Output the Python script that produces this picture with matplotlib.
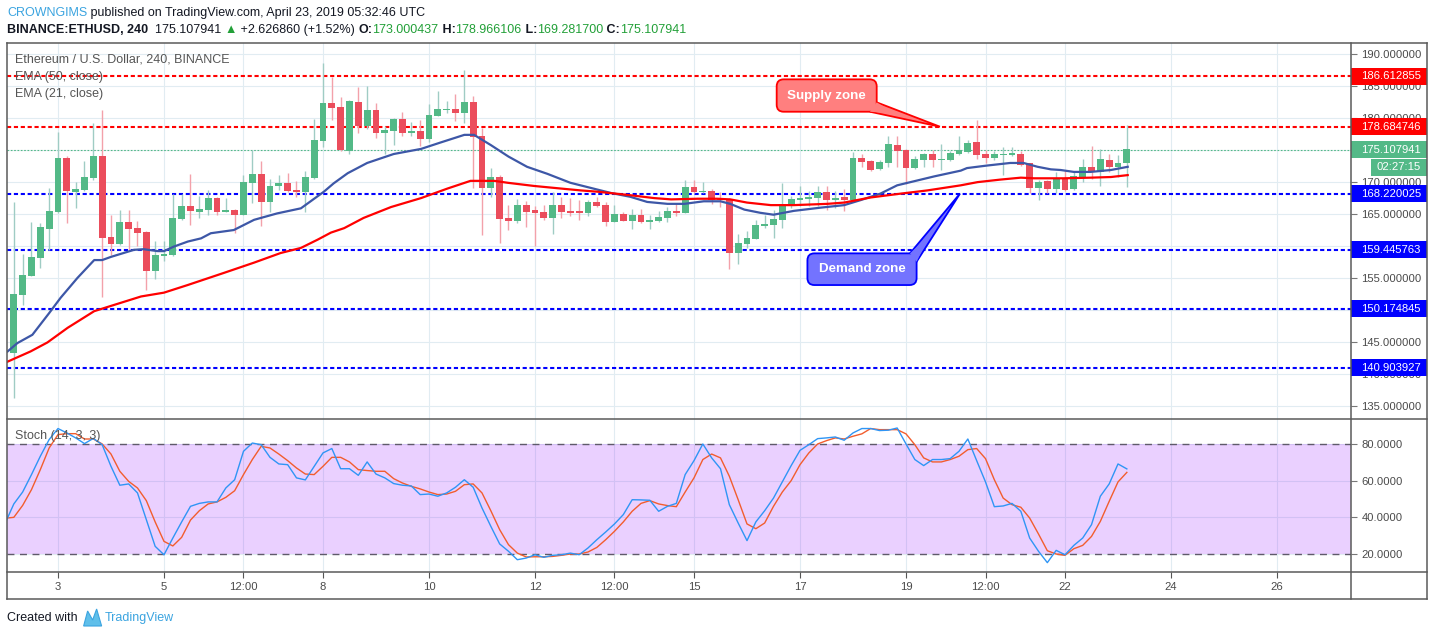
import numpy as np
import matplotlib
matplotlib.use("Agg")
import matplotlib.pyplot as plt
import matplotlib.transforms as mtransforms
from matplotlib.patches import Rectangle, FancyBboxPatch, Polygon
from matplotlib.lines import Line2D

plt.rcParams["font.family"] = ["Liberation Sans", "DejaVu Sans"]

# ---------------- data (ETHUSD 4h candles, Apr 2 04:00 -> Apr 23 04:00) ----------------
first_bar_day = 2 + 4 / 24.0

opens = [143.25, 152.37, 155.34, 158.16, 162.69, 165.35, 173.79, 168.48, 168.79, 170.66,
         174.10, 161.44, 160.35, 163.79, 162.85, 162.22, 156.13, 158.47, 158.63, 164.25,
         166.29, 165.35, 165.66, 167.54, 165.35, 165.66, 164.88, 169.88, 171.29, 166.91,
         169.41, 169.88, 168.79, 168.48, 170.66, 176.45, 182.39, 181.76, 174.88, 182.55,
         178.79, 181.29, 177.70, 178.01, 179.89, 177.70, 178.01, 176.76, 180.36, 181.29,
         181.45, 180.83, 182.55, 177.23, 169.10, 170.82, 164.41, 163.94, 166.44, 165.66,
         165.35, 164.41, 166.44, 165.50, 165.51, 165.20, 166.87, 166.40, 163.79, 164.99,
         163.95, 164.83, 163.79, 163.95, 164.42, 165.51, 165.20, 169.21, 168.43, 168.58,
         167.44, 167.33, 158.94, 160.35, 161.13, 163.11, 163.27, 164.05, 166.40, 167.18,
         167.33, 167.49, 168.43, 167.18, 167.65, 167.18, 173.74, 173.27, 172.02, 172.96,
         175.78, 174.99, 172.18, 173.43, 174.37, 173.43, 173.43, 174.37, 174.68, 176.24,
         174.37, 173.74, 174.21, 174.21, 174.37, 172.96, 169.05, 170.15, 168.90, 170.62,
         168.90, 170.77, 172.34, 171.56, 173.43, 172.34, 173.00]
highs = [166.91, 158.78, 163.79, 163.58, 169.15, 177.86, 174.10, 170.04, 173.32, 179.26,
         181.29, 164.88, 165.66, 165.66, 163.94, 162.30, 160.82, 160.82, 168.16, 168.16,
         171.29, 167.85, 168.79, 167.60, 167.54, 165.82, 171.13, 175.04, 173.32, 170.51,
         171.13, 171.45, 170.20, 171.76, 179.89, 188.64, 186.45, 183.33, 182.86, 184.89,
         185.05, 182.39, 178.79, 180.04, 180.98, 179.42, 179.73, 182.23, 184.26, 182.70,
         183.80, 187.55, 183.48, 178.48, 172.23, 171.13, 166.44, 167.38, 167.07, 166.29,
         166.44, 168.48, 167.69, 167.54, 167.18, 167.18, 167.65, 166.87, 166.40, 165.30,
         165.77, 165.77, 164.83, 165.46, 166.08, 166.55, 170.30, 170.30, 170.00, 168.90,
         168.43, 167.49, 161.86, 162.33, 164.05, 164.83, 165.61, 169.84, 167.80, 169.37,
         168.58, 169.37, 169.37, 168.58, 168.90, 174.68, 174.37, 173.43, 173.43, 177.18,
         177.18, 175.15, 174.06, 174.50, 175.00, 175.93, 174.84, 177.18, 176.56, 179.68,
         174.99, 174.84, 175.46, 175.46, 174.84, 173.00, 170.30, 170.30, 171.56, 171.87,
         171.56, 173.59, 175.62, 175.15, 174.37, 174.21, 178.97]
lows = [136.22, 150.81, 155.24, 156.59, 159.41, 165.10, 163.63, 165.97, 168.68, 170.35,
        152.06, 158.63, 160.19, 159.41, 160.03, 153.15, 154.87, 157.69, 158.50, 164.10,
        163.32, 164.41, 164.88, 164.88, 165.30, 162.07, 164.78, 166.76, 163.16, 165.35,
        168.79, 168.50, 167.69, 165.35, 170.56, 175.51, 179.73, 174.88, 174.42, 177.70,
        178.32, 176.92, 174.42, 175.82, 177.23, 177.23, 175.67, 176.29, 180.30, 180.83,
        179.57, 179.26, 169.10, 161.75, 167.69, 160.50, 162.53, 163.63, 163.00, 160.03,
        164.10, 161.91, 164.41, 164.72, 164.05, 164.68, 166.08, 163.11, 163.70, 163.90,
        162.64, 163.58, 162.64, 163.79, 163.79, 164.68, 165.10, 168.32, 168.30, 166.55,
        166.14, 156.44, 157.22, 159.73, 161.03, 162.80, 161.19, 162.80, 165.93, 166.24,
        166.24, 166.24, 165.61, 165.93, 165.46, 167.10, 172.34, 171.76, 171.90, 172.34,
        172.34, 169.68, 172.00, 172.34, 172.34, 171.87, 173.30, 174.21, 174.58, 173.69,
        172.96, 173.43, 171.09, 174.10, 172.50, 168.27, 167.18, 168.27, 168.27, 168.60,
        168.80, 170.00, 170.46, 169.37, 171.56, 170.77, 169.28]
closes = [152.53, 155.50, 158.31, 163.00, 165.50, 173.79, 168.63, 168.94, 170.82, 174.10,
          161.28, 160.35, 163.79, 162.69, 162.07, 156.13, 158.63, 158.78, 164.41, 166.29,
          165.50, 165.82, 167.54, 165.35, 165.66, 164.88, 170.04, 171.29, 166.91, 169.41,
          169.88, 168.63, 168.48, 170.82, 176.60, 182.39, 181.61, 175.04, 182.70, 178.79,
          181.29, 177.70, 178.17, 179.89, 177.70, 178.01, 176.76, 180.51, 181.45, 181.45,
          180.83, 182.55, 177.07, 169.10, 170.82, 164.25, 163.94, 166.44, 165.35, 165.19,
          164.41, 166.44, 165.35, 165.19, 165.20, 166.87, 166.24, 163.79, 164.99, 163.95,
          164.83, 163.79, 164.05, 164.52, 165.46, 165.20, 169.21, 168.48, 168.58, 167.23,
          167.18, 158.94, 160.46, 161.24, 163.27, 163.43, 164.21, 166.55, 167.33, 167.49,
          167.65, 168.43, 167.18, 167.49, 167.18, 173.74, 173.12, 171.87, 173.12, 175.93,
          174.84, 172.18, 173.59, 174.37, 173.43, 173.59, 174.52, 174.99, 176.09, 174.21,
          173.74, 174.37, 174.37, 174.53, 172.65, 169.05, 170.00, 168.90, 170.62, 168.74,
          170.93, 172.34, 171.56, 173.59, 172.34, 172.96, 175.11]

# EMA lines, read at bar positions
ema21_pos = [-0.7, 0.4, 2.1, 4.0, 5.3, 7.2, 9.1, 10.0, 11.0, 13.6, 14.7, 16.3, 17.0, 18.1,
             19.7, 21.2, 22.3, 24.9, 27.2, 29.8, 32.5, 33.6, 35.1, 36.2, 37.8, 40.0, 43.0,
             46.1, 48.3, 51.0, 52.1, 54.0, 56.0, 58.1, 60.4, 63.0, 65.3, 67.6, 69.8, 71.7,
             74.0, 75.9, 78.1, 80.0, 81.1, 82.7, 84.5, 86.0, 88.3, 91.3, 94.0, 95.9, 98.1,
             100.0, 101.5, 104.2, 107.2, 107.9, 110.2, 112.8, 114.3, 115.9, 117.4, 118.5,
             120.0, 121.9, 124.2, 126.1]
ema21_val = [143.5, 144.8, 146.1, 149.5, 151.9, 155.0, 157.8, 157.8, 158.3, 159.4, 159.5,
             159.2, 159.2, 159.9, 160.7, 161.2, 162.0, 162.5, 164.1, 165.1, 165.9, 167.0,
             168.5, 169.8, 171.4, 173.0, 174.4, 175.2, 176.2, 177.4, 177.4, 175.8, 174.0,
             172.4, 171.3, 169.9, 169.1, 168.3, 167.7, 166.9, 166.6, 166.6, 167.0, 167.0,
             166.6, 165.7, 165.2, 164.9, 165.5, 166.0, 166.4, 167.2, 168.2, 169.5, 170.0,
             170.9, 171.8, 172.2, 172.6, 173.0, 173.0, 172.4, 172.0, 171.9, 171.6, 171.6,
             171.9, 172.4]
ema50_pos = [-0.7, 1.9, 3.8, 6.1, 9.1, 11.4, 14.4, 17.0, 19.7, 23.8, 27.2, 30.2, 32.5,
             34.4, 35.9, 37.4, 39.6, 42.7, 46.1, 49.1, 51.7, 54.4, 55.9, 58.9, 61.9, 64.2,
             66.1, 69.5, 72.5, 74.4, 77.4, 79.6, 81.1, 83.0, 85.7, 88.3, 92.1, 94.0, 97.0,
             100.4, 103.4, 107.2, 109.1, 111.7, 114.0, 115.5, 118.9, 121.9, 124.2, 126.1]
ema50_val = [141.9, 143.5, 144.9, 147.2, 149.8, 150.8, 152.1, 152.7, 153.9, 155.8, 157.4,
             158.9, 159.7, 161.0, 162.1, 162.8, 164.4, 166.1, 167.5, 169.0, 170.2, 170.2,
             169.9, 169.4, 169.0, 168.7, 168.5, 168.0, 167.5, 167.3, 167.4, 167.4, 167.3,
             166.8, 166.4, 166.4, 166.6, 166.8, 167.6, 168.2, 168.7, 169.5, 170.0, 170.4,
             170.7, 170.6, 170.6, 170.7, 170.8, 171.1]

# Stoch (14, 3, 3), one value per bar starting at bar -1
stoch_k = [36.6,
           47.3, 53.8, 63.3, 73.3, 82.4, 88.4, 86.0, 83.3, 80.2, 83.0,
           79.6, 67.8, 57.5, 58.2, 53.3, 38.7, 24.2, 19.6, 28.7, 37.5,
           46.0, 47.6, 48.4, 48.4, 56.0, 60.5, 76.0, 80.5, 79.6, 72.7,
           69.1, 68.7, 61.5, 60.4, 67.8, 75.1, 77.5, 66.5, 66.5, 62.9,
           70.2, 63.6, 61.5, 58.4, 57.5, 57.1, 52.4, 52.7, 51.5, 53.3,
           56.4, 60.5, 56.4, 45.1, 35.1, 25.5, 21.5, 16.9, 17.8, 19.6,
           18.2, 19.3, 19.6, 20.5, 19.6, 23.3, 27.8, 32.0, 36.4, 41.5,
           49.6, 49.5, 49.3, 43.3, 46.0, 47.6, 63.3, 70.9, 80.0, 72.4,
           66.5, 46.9, 36.9, 27.3, 37.5, 43.6, 50.5, 59.3, 68.2, 76.5,
           79.6, 82.9, 83.3, 83.8, 82.0, 86.0, 88.4, 88.4, 87.3, 87.5,
           88.7, 80.0, 71.5, 68.2, 71.5, 71.5, 72.0, 76.0, 82.7, 70.9,
           59.3, 45.8, 46.2, 47.6, 43.3, 28.7, 21.5, 15.3, 22.0, 19.6,
           24.7, 28.7, 36.0, 51.5, 58.2, 69.1, 66.4]
stoch_d = [39.5,
           40.0, 46.5, 55.1, 66.0, 77.8, 85.1, 85.6, 85.6, 82.7, 82.7,
           80.0, 74.5, 65.1, 59.6, 56.0, 49.1, 37.5, 26.9, 24.4, 29.1,
           38.5, 43.6, 47.3, 48.4, 50.9, 54.5, 63.3, 71.5, 78.7, 77.8,
           74.5, 70.9, 66.9, 63.6, 63.3, 67.8, 72.7, 72.7, 70.2, 66.0,
           65.5, 65.1, 65.1, 61.1, 58.7, 56.9, 55.5, 53.8, 52.4, 52.7,
           54.2, 57.8, 58.2, 53.3, 43.6, 33.3, 25.1, 20.5, 18.4, 18.5,
           18.5, 18.7, 19.3, 20.0, 20.0, 21.1, 23.6, 27.8, 32.4, 37.5,
           43.3, 47.6, 49.1, 47.3, 46.4, 45.8, 53.8, 61.5, 71.5, 74.5,
           72.4, 62.4, 49.6, 36.4, 33.8, 36.9, 46.0, 53.8, 60.0, 68.7,
           75.1, 80.0, 81.8, 83.3, 82.7, 84.2, 85.5, 88.4, 87.8, 87.8,
           87.8, 85.5, 79.6, 72.4, 70.2, 70.2, 71.5, 73.3, 76.9, 77.5,
           72.0, 60.5, 50.5, 46.9, 45.5, 39.6, 30.9, 21.8, 20.0, 19.3,
           22.9, 24.7, 29.6, 37.8, 48.7, 59.3, 64.5]

supply_levels = [186.612855, 178.684746]
demand_levels = [168.220025, 159.445763, 150.174845, 140.903927]
last_price = 175.107941

tick_days = [3, 5, 6.5, 8, 10, 12, 13.5, 15, 17, 19, 20.5, 22, 24, 26]
tick_labels = ["3", "5", "12:00", "8", "10", "12", "12:00", "15", "17", "19", "12:00",
               "22", "24", "26"]

# callouts: box (x0, x1, y0, y1) in days/price, tail base points and tip
supply_box = (16.56, 18.447, 181.02, 186.09)
supply_tail = [(18.447, 182.49), (18.32, 181.02), (19.64, 178.68)]
demand_box = (17.14, 19.20, 153.89, 158.85)
demand_tail = [(19.075, 158.85), (19.20, 157.54), (20.02, 168.22)]

# ---------------- layout (pixels) ----------------
W, H = 1433, 636
L, R, RR = 7, 1351, 1427
T1, B1, B2, B3 = 43, 419, 572, 599
GREEN, RED = "#53b987", "#eb4d5c"
GRID = "#e1ecf2"
AXTXT = "#4a4a4a"
FRAME = "#5a5a5a"

fig = plt.figure(figsize=(W / 100, H / 100), dpi=100)
fig.patch.set_facecolor("white")
ax = fig.add_axes([L / W, 1 - B1 / H, (R - L) / W, (B1 - T1) / H])
ax2 = fig.add_axes([L / W, 1 - B2 / H, (R - L) / W, (B2 - B1) / H], sharex=ax)

xmin, xmax = 2.038, 27.396
ymin, ymax = 132.92, 191.78
ax.set_xlim(xmin, xmax)
ax.set_ylim(ymin, ymax)
ppu = (B1 - T1) / (ymax - ymin)       # pixels per price unit
ppd = (R - L) / (xmax - xmin)         # pixels per day

# ---------------- price panel ----------------
n = len(closes)
xs = first_bar_day + np.arange(n) / 6.0
o = np.array(opens); c = np.array(closes)
up = c >= o
body = c - o
min_h = 1.0 / ppu
body = np.where(np.abs(body) < min_h, np.where(up, min_h, -min_h), body)

ax.vlines(xs, lows, highs, colors=np.where(up, "#9fccc4", "#f3a1aa"), lw=1, zorder=3)
ax.bar(xs, body, bottom=o, width=0.13, color=np.where(up, GREEN, RED), lw=0, zorder=4)

ax.plot(first_bar_day + np.array(ema21_pos) / 6.0, ema21_val, color="#3d57a7", lw=1.6, zorder=5)
ax.plot(first_bar_day + np.array(ema50_pos) / 6.0, ema50_val, color="#ff0000", lw=1.6, zorder=5)

for lv in supply_levels:
    ax.axhline(lv, color="#ff0000", lw=1.5, ls=(0, (2, 1.3)), zorder=2.6)
for lv in demand_levels:
    ax.axhline(lv, color="#0000ff", lw=1.5, ls=(0, (2, 1.3)), zorder=2.6)
ax.axhline(last_price, color=GREEN, lw=0.8, ls=(0, (1.5, 1.5)), zorder=2.5)

ax.set_yticks(np.arange(135, 191, 5))
ax.yaxis.set_major_formatter(matplotlib.ticker.FormatStrFormatter("%.6f"))
ax.yaxis.tick_right()
ax.tick_params(axis="y", direction="out", length=4, width=0.8, color="#777777",
               labelsize=8.1, labelcolor=AXTXT, pad=3.5)
ax.tick_params(axis="x", length=0, labelbottom=False)
ax.set_xticks(tick_days)
ax.grid(True, color=GRID, lw=0.8)
ax.set_axisbelow(True)
for s in ax.spines.values():
    s.set_visible(False)

# price tags on the right scale
blend = mtransforms.blended_transform_factory(ax.transAxes, ax.transData)
tag_w = (RR - R) / (R - L)
tag_h = 17 / ppu


def price_tag(value, color, text_color="white"):
    ax.add_patch(Rectangle((1.0, value - tag_h / 2), tag_w, tag_h, transform=blend,
                           facecolor=color, edgecolor="none", clip_on=False, zorder=10))
    ax.text(1.0 + 10 / (R - L), value, "%.6f" % value, transform=blend, color=text_color,
            fontsize=8.1, va="center", ha="left", clip_on=False, zorder=11)


for lv in supply_levels:
    price_tag(lv, "#ff0000")
for lv in demand_levels:
    price_tag(lv, "#0000ff")
price_tag(last_price, GREEN)
cd_y = last_price - 17.5 / ppu
ax.add_patch(Rectangle((1.0 + 20 / (R - L), cd_y - tag_h / 2), 56 / (R - L), tag_h,
                       transform=blend, facecolor=GREEN, edgecolor="none",
                       clip_on=False, zorder=10))
ax.text(1.0 + 48 / (R - L), cd_y, "02:27:15", transform=blend, color="white",
        fontsize=8.1, va="center", ha="center", clip_on=False, zorder=11)


# callouts
def callout(box, tail, text, fc, ec):
    x0, x1, y0, y1 = box
    ax.add_patch(Polygon(tail, closed=True, fc=fc, ec=ec, lw=1.3, zorder=12))
    ax.add_patch(FancyBboxPatch((x0, y0), x1 - x0, y1 - y0,
                                boxstyle="round,pad=0,rounding_size=%f" % (7 / ppd),
                                mutation_aspect=ppd / ppu, fc=fc, ec=ec, lw=1.3, zorder=13))
    (bx0, by0), (bx1, by1), (tx, ty) = tail
    mx, my = (bx0 + bx1) / 2, (by0 + by1) / 2
    cover = [(bx0, by0), (bx1, by1), (mx + 0.35 * (tx - mx), my + 0.35 * (ty - my))]
    ax.add_patch(Polygon(cover, closed=True, fc=fc, ec="none", zorder=14))
    ax.text((x0 + x1) / 2, (y0 + y1) / 2, text, ha="center", va="center", color="white",
            fontweight="bold", fontsize=9.6, zorder=15)


callout(supply_box, supply_tail, "Supply zone", "#ff7f7f", "#ff0000")
callout(demand_box, demand_tail, "Demand zone", "#7373ff", "#0000ff")

# ---------------- stochastic panel ----------------
ax2.set_ylim(10.2, 93.6)
sx = first_bar_day + np.arange(-1, len(stoch_k) - 1) / 6.0
ax2.axhspan(20, 80, color="#9915ff", alpha=0.2, lw=0, zorder=1)
ax2.axhline(80, color="#5f5a6a", lw=1, ls=(0, (5, 4)), zorder=2)
ax2.axhline(20, color="#5f5a6a", lw=1, ls=(0, (5, 4)), zorder=2)
ax2.plot(sx, stoch_k, color="#2f95f5", lw=1.0, zorder=4)
ax2.plot(sx, stoch_d, color="#f25d2e", lw=1.0, zorder=3)
ax2.set_yticks([20, 40, 60, 80])
ax2.yaxis.set_major_formatter(matplotlib.ticker.FormatStrFormatter("%.4f"))
ax2.yaxis.tick_right()
ax2.tick_params(axis="y", direction="out", length=4, width=0.8, color="#777777",
                labelsize=8.1, labelcolor=AXTXT, pad=3.5)
ax2.set_xticks(tick_days)
ax2.set_xticklabels(tick_labels)
ax2.tick_params(axis="x", direction="out", length=4, width=0.8, color="#555555",
                labelsize=8.1, labelcolor=AXTXT, pad=3.5)
ax2.grid(True, color=GRID, lw=0.8)
ax2.set_axisbelow(True)
for s in ax2.spines.values():
    s.set_visible(False)

# ---------------- frame ----------------
def hline(y, x0, x1):
    fig.add_artist(Line2D([x0 / W, x1 / W], [1 - y / H, 1 - y / H], color=FRAME, lw=1.1))


def vline(x, y0, y1):
    fig.add_artist(Line2D([x / W, x / W], [1 - y0 / H, 1 - y1 / H], color=FRAME, lw=1.1))


for yy in (T1, B1, B2, B3):
    hline(yy, L, RR)
for xx in (L, R, RR):
    vline(xx, T1, B3)

# ---------------- texts ----------------
renderer = fig.canvas.get_renderer()


def text_run(x_px, y_px, pieces, size):
    x = x_px
    for s, color, weight in pieces:
        t = fig.text(x / W, 1 - y_px / H, s, color=color, fontsize=size,
                     fontweight=weight, va="center", ha="left")
        x += t.get_window_extent(renderer).width
    return x


BLK, VGREEN = "#131722", "#22a038"
text_run(7, 13, [("CROWNGIMS", "#3ba4e0", "normal"),
                 (" published on TradingView.com, April 23, 2019 05:32:46 UTC", BLK, "normal")], 9)
text_run(7, 30, [("BINANCE:ETHUSD, 240", BLK, "bold"), ("  175.107941 ", BLK, "normal"),
                 ("\u25b2", VGREEN, "normal"), (" +2.626860 (+1.52%) ", BLK, "normal"),
                 ("O:", BLK, "bold"), ("173.000437", VGREEN, "normal"),
                 (" H:", BLK, "bold"), ("178.966106", VGREEN, "normal"),
                 (" L:", BLK, "bold"), ("169.281700", VGREEN, "normal"),
                 (" C:", BLK, "bold"), ("175.107941", VGREEN, "normal")], 9)

LEG = "#555555"
fig.text(15 / W, 1 - 60 / H, "Ethereum / U.S. Dollar, 240, BINANCE", color=LEG, fontsize=9.0, va="center")
fig.text(15 / W, 1 - 77 / H, "EMA (50, close)", color=LEG, fontsize=9.0, va="center")
fig.text(15 / W, 1 - 94 / H, "EMA (21, close)", color=LEG, fontsize=9.0, va="center")
fig.text(15 / W, 1 - 436 / H, "Stoch (14, 3, 3)", color=LEG, fontsize=9.0, va="center")

# footer with a small logo mark
x_end = text_run(7, 618, [("Created with", BLK, "normal")], 9)
lx = x_end + 6
logo = [(lx, 626), (lx + 4, 611), (lx + 9, 620), (lx + 13, 609), (lx + 18, 626)]
fig.add_artist(Polygon([(px / W, 1 - py / H) for px, py in logo], closed=True,
                       transform=fig.transFigure, fc="#5fbfea", ec="#3ba4e0", lw=0.8))
fig.text((lx + 21) / W, 1 - 618 / H, "TradingView", color="#3ba4e0", fontsize=9, va="center")

fig.savefig("out.png", dpi=100, facecolor="white")
